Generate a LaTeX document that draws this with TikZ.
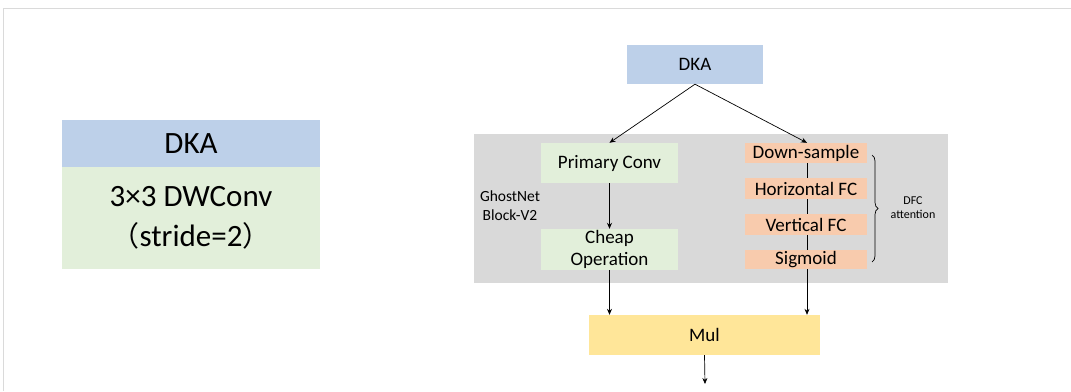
\documentclass[tikz,border=0pt]{standalone}
\usepackage{fontspec}
\setmainfont{Carlito}
\newfontfamily\cjkfont{Noto Sans CJK SC}
\usetikzlibrary{arrows.meta,decorations.pathreplacing}
\definecolor{dkablue}{RGB}{189,208,233}
\definecolor{lgreen}{RGB}{226,239,218}
\definecolor{lorange}{RGB}{248,203,173}
\definecolor{lyellow}{RGB}{255,230,153}
\definecolor{graybg}{RGB}{217,217,217}
\definecolor{frame}{RGB}{218,218,218}
\begin{document}
\begin{tikzpicture}[x=1pt,y=-1pt,
  box/.style={draw=none,minimum width=#1,inner sep=0pt,align=center,font=\fontsize{19}{22}\selectfont},
  arr/.style={-{Stealth[length=6pt,width=5pt]},line width=0.7pt}]
\useasboundingbox (0,0) rectangle (1071,391);
\draw[frame,line width=1.2pt] (3.5,391) -- (3.5,8.5) -- (1071,8.5);
% left DKA block
\fill[dkablue] (62,120) rectangle (320,167);
\fill[lgreen] (62,167) rectangle (320,269);
\node[font=\fontsize{31}{34}\selectfont] (ldka) at (191,143.5) {DKA};
\node[font=\fontsize{31}{40}\selectfont,align=center] (lconv) at (191,218) {3×3 DWConv\\{\cjkfont\fontsize{28}{40}\selectfont （}stride=2{\cjkfont\fontsize{28}{40}\selectfont ）}};
% gray block
\fill[graybg] (474,134) rectangle (948,283);
\node[box=136pt,minimum height=39pt,fill=dkablue] (dka) at (695,64.5) {DKA};
\node[box=137pt,minimum height=40pt,fill=lgreen] (pc) at (609.5,163) {Primary Conv};
\node[box=137pt,minimum height=41pt,fill=lgreen] (co) at (609.5,249.5) {Cheap\\Operation};
\coordinate (lt) at (807,153);
\draw[line width=0.7pt] (807,153) -- (807,283);
\node[box=122pt,minimum height=20pt,fill=lorange] (ds) at (806,153) {Down-sample};
\node[box=122pt,minimum height=21pt,fill=lorange] (hf) at (806,188.5) {Horizontal FC};
\node[box=122pt,minimum height=21pt,fill=lorange] (vf) at (806,224.5) {Vertical FC};
\node[box=122pt,minimum height=19pt,fill=lorange] (sg) at (806,259.5) {Sigmoid};
\node[box=231pt,minimum height=40pt,fill=lyellow] (mul) at (704.5,335) {Mul};
\node[font=\fontsize{15.5}{19}\selectfont,align=center] (gn) at (510,206) {GhostNet\\Block-V2};
\coordinate (bt) at (872,155);
\coordinate (bb) at (872,262);
\draw[line width=0.7pt,decorate,decoration={brace,amplitude=6pt}] (bt) -- (bb);
\node[font=\fontsize{12}{14}\selectfont,align=center] (dfc) at (913,207.5) {DFC\\attention};
\draw[arr] (dka.south) -- (pc.north);
\draw[arr] (dka.south) -- (ds.north -| lt);
\draw[arr] (pc.south) -- (co.north);
\draw[arr] (co.south) -- (co.south |- mul.north);
\draw[arr] (sg.south -| lt) -- (mul.north -| lt);
\coordinate (out) at (705,384);
\draw[arr] (mul.south) -- (out);
\end{tikzpicture}
\end{document}
